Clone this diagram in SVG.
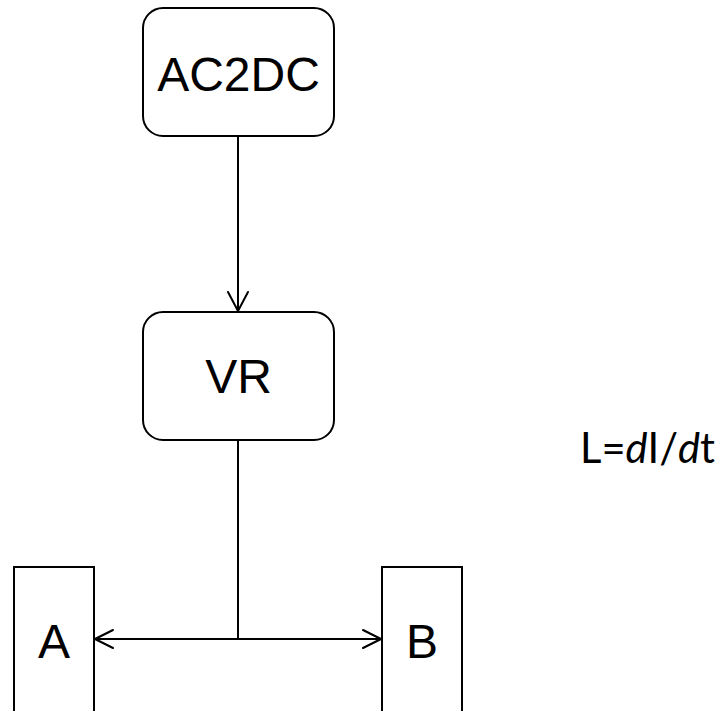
<svg xmlns="http://www.w3.org/2000/svg" width="721" height="711" viewBox="0 0 721 711">
<defs>
<style>
.box{fill:#fff;stroke:#000;stroke-width:2}
.lbl{font-family:"Liberation Sans",Arial,sans-serif;font-size:48px;fill:#000;text-anchor:middle}
.conn{stroke:#000;stroke-width:2;fill:none}
.head{stroke:#000;stroke-width:2;fill:none;stroke-linecap:round;stroke-linejoin:round}
.eq{font-family:Lato,"Open Sans",sans-serif;font-size:42px;fill:#000}
</style>
</defs>
<rect width="721" height="711" fill="#fff"/>
<g id="connectors">
<line class="conn" x1="238" y1="136" x2="238" y2="311"/>
<polyline class="head" points="228,292 238,311 248,292"/>
<line class="conn" x1="238" y1="440" x2="238" y2="639"/>
<line class="conn" x1="95" y1="639" x2="381" y2="639"/>
<polyline class="head" points="113,630 95,639 113,648"/>
<polyline class="head" points="363,630 381,639 363,648"/>
</g>
<g id="ac2dc">
<rect class="box" x="143" y="8" width="191" height="128" rx="20" ry="20"/>
<text class="lbl" x="238.5" y="91">AC2DC</text>
</g>
<g id="vr">
<rect class="box" x="143" y="312" width="191" height="128" rx="20" ry="20"/>
<text class="lbl" x="238.5" y="393">VR</text>
</g>
<g id="a">
<rect class="box" x="14" y="567" width="80" height="160"/>
<text class="lbl" x="54" y="658">A</text>
</g>
<g id="b">
<rect class="box" x="382" y="567" width="80" height="160"/>
<text class="lbl" x="422" y="658">B</text>
</g>
<g id="equation">
<text class="eq" x="580" y="463" textLength="135" lengthAdjust="spacingAndGlyphs">L=<tspan font-style="italic">d</tspan>I/<tspan font-style="italic">d</tspan>t</text>
</g>
</svg>
